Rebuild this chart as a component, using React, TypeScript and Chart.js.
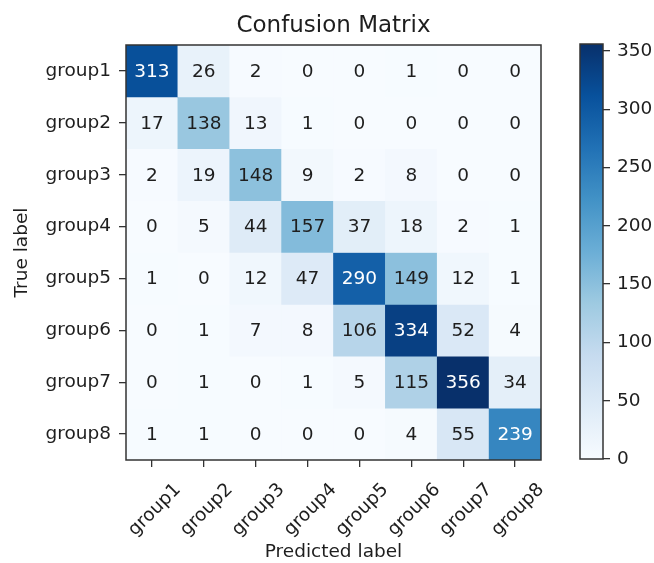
import React, { useEffect, useRef } from "react";
import { Chart, registerables } from "chart.js";

Chart.register(...registerables);

const predictedLabels = ["group1", "group2", "group3", "group4", "group5", "group6", "group7", "group8"];
const trueLabels = ["group1", "group2", "group3", "group4", "group5", "group6", "group7", "group8"];

const row1 = [313, 26, 2, 0, 0, 1, 0, 0];
const row2 = [17, 138, 13, 1, 0, 0, 0, 0];
const row3 = [2, 19, 148, 9, 2, 8, 0, 0];
const row4 = [0, 5, 44, 157, 37, 18, 2, 1];
const row5 = [1, 0, 12, 47, 290, 149, 12, 1];
const row6 = [0, 1, 7, 8, 106, 334, 52, 4];
const row7 = [0, 1, 0, 1, 5, 115, 356, 34];
const row8 = [1, 1, 0, 0, 0, 4, 55, 239];
const matrix = [row1, row2, row3, row4, row5, row6, row7, row8];

const colorbarTicks = [0, 50, 100, 150, 200, 250, 300, 350];
const colorMin = 0;
const colorMax = 356;

const FONT = "DejaVu Sans";
const TEXT = "#1e1e1e";
const LINE = "#333333";
const FS = 18.5;

// matplotlib "Blues" colormap anchor colours
const BLUES: [number, number, number][] = [
  [247, 251, 255],
  [222, 235, 247],
  [198, 219, 239],
  [158, 202, 225],
  [107, 174, 214],
  [66, 146, 198],
  [33, 113, 181],
  [8, 81, 156],
  [8, 48, 107],
];

function blues(t: number): string {
  const c = Math.max(0, Math.min(1, t));
  const pos = c * (BLUES.length - 1);
  const i = Math.min(BLUES.length - 2, Math.floor(pos));
  const f = pos - i;
  const a = BLUES[i];
  const b = BLUES[i + 1];
  const r = Math.round(a[0] + (b[0] - a[0]) * f);
  const g = Math.round(a[1] + (b[1] - a[1]) * f);
  const bl = Math.round(a[2] + (b[2] - a[2]) * f);
  return `rgb(${r},${g},${bl})`;
}

const framePlugin = {
  id: "frame",
  afterDraw(chart: any) {
    const { ctx, chartArea } = chart;
    ctx.save();
    ctx.strokeStyle = LINE;
    ctx.lineWidth = 1.5;
    ctx.strokeRect(chartArea.left, chartArea.top, chartArea.right - chartArea.left, chartArea.bottom - chartArea.top);
    ctx.restore();
  },
};

const cellTextPlugin = {
  id: "cellText",
  afterDatasetsDraw(chart: any) {
    const { ctx } = chart;
    ctx.save();
    ctx.font = `${FS}px "${FONT}"`;
    ctx.textAlign = "center";
    ctx.textBaseline = "middle";
    const thresh = colorMax / 2;
    chart.data.datasets.forEach((_: any, di: number) => {
      const meta = chart.getDatasetMeta(di);
      meta.data.forEach((el: any, ci: number) => {
        const v = matrix[di][ci];
        const p = el.getCenterPoint();
        ctx.fillStyle = v > thresh ? "#ffffff" : TEXT;
        ctx.fillText(String(v), p.x, p.y + 1);
      });
    });
    ctx.restore();
  },
};

export default function App() {
  const mainRef = useRef<HTMLCanvasElement | null>(null);
  const barRef = useRef<HTMLCanvasElement | null>(null);

  useEffect(() => {
    if (!mainRef.current || !barRef.current) return;

    const main = new Chart(mainRef.current, {
      type: "bar",
      data: {
        labels: predictedLabels,
        datasets: trueLabels.map((name, ri) => ({
          label: name,
          data: predictedLabels.map(() => 1),
          backgroundColor: (ctx: any) =>
            blues((matrix[ri][ctx.dataIndex] - colorMin) / (colorMax - colorMin)),
          borderWidth: 0,
          barPercentage: 1,
          categoryPercentage: 1,
        })),
      },
      options: {
        responsive: false,
        animation: false,
        devicePixelRatio: 1,
        events: [],
        layout: { padding: { left: 0, top: 0, right: 113, bottom: 0 } },
        plugins: {
          legend: { display: false },
          tooltip: { enabled: false },
          title: {
            display: true,
            text: "Confusion Matrix",
            fullSize: false,
            color: TEXT,
            font: { family: FONT, size: 23, weight: "normal" },
            padding: { top: 12, bottom: 5.4 },
          },
        },
        scales: {
          x: {
            type: "category",
            stacked: true,
            offset: true,
            grid: {
              display: true,
              offset: false,
              drawOnChartArea: false,
              drawTicks: true,
              tickLength: 7,
              color: LINE,
              lineWidth: 1.3,
            },
            border: { display: false },
            ticks: {
              color: TEXT,
              font: { family: FONT, size: FS },
              minRotation: 45,
              maxRotation: 45,
              labelOffset: 26,
              padding: 12,
              autoSkip: false,
            },
            title: {
              display: true,
              text: "Predicted label",
              color: TEXT,
              font: { family: FONT, size: FS },
              padding: { top: 0, bottom: 0 },
            },
            afterFit(scale: any) {
              scale.height = 103;
            },
          },
          y: {
            type: "linear",
            stacked: true,
            min: 0,
            max: trueLabels.length,
            reverse: true,
            grid: {
              display: true,
              drawOnChartArea: false,
              drawTicks: true,
              tickLength: 7,
              color: LINE,
              lineWidth: 1.3,
            },
            border: { display: false },
            afterBuildTicks(scale: any) {
              scale.ticks = trueLabels.map((_, i) => ({ value: i + 0.5 }));
            },
            ticks: {
              color: TEXT,
              font: { family: FONT, size: FS },
              padding: 8,
              autoSkip: false,
              callback: (v: any) => trueLabels[Math.floor(Number(v))],
            },
            title: {
              display: true,
              text: "True label",
              color: TEXT,
              font: { family: FONT, size: FS },
              padding: { top: 11, bottom: 0 },
            },
            afterFit(scale: any) {
              scale.width = 126;
            },
          },
        },
      },
      plugins: [cellTextPlugin, framePlugin],
    } as any);

    const bar = new Chart(barRef.current, {
      type: "bar",
      data: {
        labels: ["scale"],
        datasets: [
          {
            data: [colorMax],
            base: colorMin,
            borderWidth: 0,
            barPercentage: 1,
            categoryPercentage: 1,
            backgroundColor: (ctx: any) => {
              const area = ctx.chart.chartArea;
              if (!area) return blues(0.5);
              const g = ctx.chart.ctx.createLinearGradient(0, area.bottom, 0, area.top);
              BLUES.forEach((c, i) => g.addColorStop(i / (BLUES.length - 1), `rgb(${c[0]},${c[1]},${c[2]})`));
              return g;
            },
          },
        ],
      },
      options: {
        responsive: false,
        animation: false,
        devicePixelRatio: 1,
        events: [],
        layout: { padding: { left: 20, top: 44, right: 0, bottom: 104 } },
        plugins: { legend: { display: false }, tooltip: { enabled: false } },
        scales: {
          x: { display: false, offset: true },
          y: {
            type: "linear",
            position: "right",
            min: colorMin,
            max: colorMax,
            grid: {
              display: true,
              drawOnChartArea: false,
              drawTicks: true,
              tickLength: 7,
              color: LINE,
              lineWidth: 1.3,
            },
            border: { display: false },
            afterBuildTicks(scale: any) {
              scale.ticks = colorbarTicks.map((v) => ({ value: v }));
            },
            ticks: {
              color: TEXT,
              font: { family: FONT, size: FS },
              padding: 7,
              includeBounds: false,
            },
            afterFit(scale: any) {
              scale.width = 51;
            },
          },
        },
      },
      plugins: [framePlugin],
    } as any);

    return () => {
      main.destroy();
      bar.destroy();
    };
  }, []);

  return (
    <div style={{ position: "fixed", left: 0, top: 0, width: 654, height: 563, background: "#ffffff" }}>
      <canvas ref={mainRef} width={654} height={563} style={{ position: "absolute", left: 0, top: 0 }} />
      <canvas ref={barRef} width={94} height={563} style={{ position: "absolute", left: 560, top: 0 }} />
    </div>
  );
}
